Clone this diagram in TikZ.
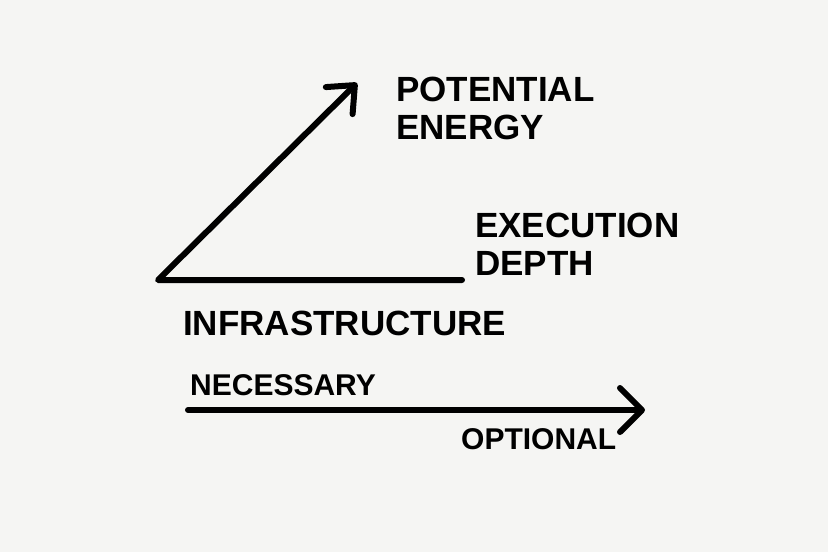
\documentclass[tikz,border=0pt]{standalone}
\usepackage{fontspec}
\setmainfont{Liberation Sans}
\usetikzlibrary{arrows.meta}
\definecolor{paper}{RGB}{245,245,243}
\begin{document}
\begin{tikzpicture}[x=1pt, y=-1pt,
        stroke/.style={line width=6pt, line cap=round, line join=round},
        biglabel/.style={font=\fontsize{35}{37.5}\selectfont\bfseries, anchor=north west, inner sep=0pt, align=left},
        smalllabel/.style={font=\fontsize{30}{32}\selectfont\bfseries, anchor=north west, inner sep=0pt, align=left}]
        % ===== PAGE =====
        \fill[paper] (0, 0) rectangle (828, 552);
        \useasboundingbox (0, 0) rectangle (828, 552);

        % ===== ANGLE =====
        \coordinate (corner) at (158, 280);
        \coordinate (depthend) at (462, 280);
        \coordinate (energytip) at (357, 83);
        \draw[stroke, -{Straight Barb[round, length=22pt, width=38pt]}]
            (depthend) -- (corner) -- (energytip);

        % --- labels of the angle ---
        \node[biglabel] (energy) at (396, 77) {POTENTIAL\\ENERGY};
        \node[biglabel] (depth) at (475, 213) {EXECUTION\\DEPTH};
        \node[biglabel] (infra) at (183, 311) {INFRASTRUCTURE};

        % ===== SCALE ARROW =====
        \coordinate (necstart) at (188, 410);
        \coordinate (opttip) at (645, 410);
        \draw[stroke, -{Straight Barb[round, length=22pt, width=44pt]}]
            (necstart) -- (opttip);
        \node[smalllabel] (necessary) at (190, 374) {NECESSARY};
        \node[smalllabel] (optional) at (461, 428) {OPTIONAL};

    \end{tikzpicture}
\end{document}
